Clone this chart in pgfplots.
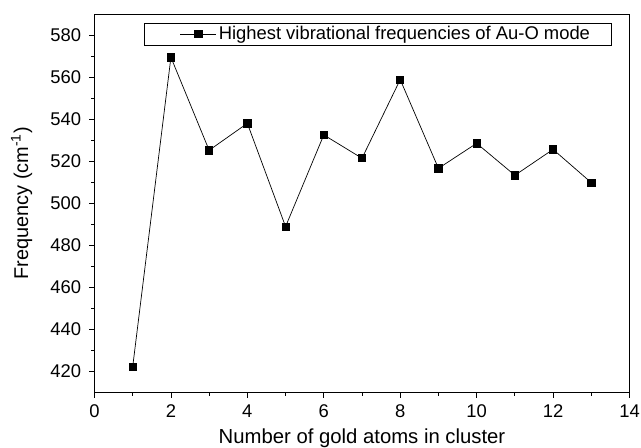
\documentclass[border=0pt]{standalone}
\usepackage{fontspec}
\setmainfont{Liberation Sans}
\usepackage{pgfplots}
\pgfplotsset{compat=1.18}
\begin{document}
\fontsize{18.4bp}{22bp}\selectfont
\begin{tikzpicture}
\useasboundingbox (-94.5bp,-55.5bp) rectangle (546.5bp,392.5bp);
\begin{axis}[
  width=535bp, height=378.5bp, scale only axis,
  xmin=0, xmax=14, ymin=410, ymax=590,
  xtick={0,2,...,14}, ytick={420,440,...,580},
  minor x tick num=1, minor y tick num=1,
  tick align=outside, xtick pos=bottom, ytick pos=left,
  major tick length=5bp, minor tick length=3bp,
  axis line style={line width=0.9bp},
  every tick/.style={black, line width=0.8bp},
  /pgf/number format/assume math mode=true,
  tick label style={font=\fontsize{18.4bp}{22bp}\selectfont},
  xticklabel style={yshift=-1bp},
  yticklabel style={xshift=-2bp},
  xlabel={Number of gold atoms in cluster},
  ylabel={Frequency (cm\textsuperscript{-1})},
  xlabel style={font=\fontsize{20.3bp}{24bp}\selectfont, at={(axis description cs:0.5,0)}, anchor=base, yshift=-51bp},
  ylabel style={font=\fontsize{19.9bp}{23bp}\selectfont, at={(axis description cs:-0.124,0.5)}, anchor=base, rotate=0},
  legend style={at={(rel axis cs:0.0925,0.977)}, anchor=north west,
    draw=black, line width=0.8bp, inner xsep=19bp, inner ysep=1bp,
    font=\fontsize{18.4bp}{22bp}\selectfont},
  legend image code/.code={
    \draw[white, line width=0.1bp] (-17bp,0bp) -- (0bp,0bp);
    \draw[mark repeat=2, mark phase=2, line width=0.7bp] plot coordinates {(0bp,0bp) (18bp,0bp) (36bp,0bp)};
  },
]
\addplot[black, line width=0.7bp, mark=square*, mark size=3.6bp] coordinates {
(1,422.3) (2,569.4) (3,525.2) (4,538.0) (5,488.9) (6,532.5) (7,521.4)
(8,558.8) (9,516.6) (10,528.5) (11,513.3) (12,525.6) (13,509.8)
};
\addlegendentry{Highest vibrational frequencies of Au-O mode}
\end{axis}
\end{tikzpicture}
\end{document}
